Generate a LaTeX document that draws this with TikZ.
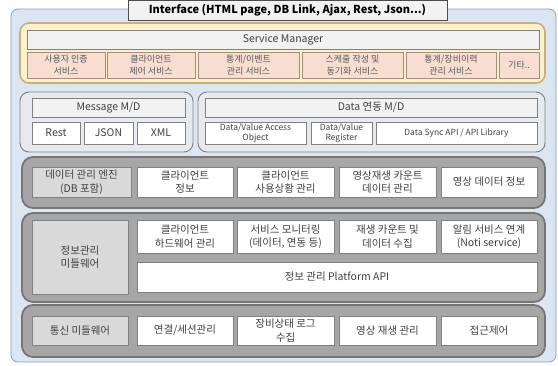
\documentclass[tikz,border=0pt]{standalone}
\usepackage{fontspec}
\setmainfont{Noto Sans CJK KR}
\definecolor{outerfill}{HTML}{DCE6F2}
\definecolor{outerline}{HTML}{8C9DB3}
\definecolor{yelfill}{HTML}{FDF1CB}
\definecolor{yelline}{HTML}{C8B07A}
\definecolor{hdrfill}{HTML}{F2F2F2}
\definecolor{pinkfill}{HTML}{F8DDD1}
\definecolor{pinkline}{HTML}{A38D80}
\definecolor{msgfill}{HTML}{E6E9EE}
\definecolor{gpfill}{HTML}{A6A6A6}
\definecolor{gpline}{HTML}{767676}
\definecolor{boxline}{HTML}{808080}
\definecolor{gboxfill}{HTML}{D9D9D9}
\definecolor{txt}{HTML}{404040}
\tikzset{
  base/.style={inner sep=0pt, outer sep=0pt, align=center, text=txt, font=\fontsize{10.5}{13.5}\selectfont},
  outerpanel/.style={base, fill=outerfill, draw=outerline, line width=0.8pt, rounded corners=7pt},
  tabbox/.style={base, fill=hdrfill, draw=black!70, line width=0.8pt, text=black, font=\bfseries\fontsize{11}{13}\selectfont},
  yelpanel/.style={base, fill=yelfill, draw=yelline, line width=1.6pt, rounded corners=9pt},
  hdr/.style={base, fill=hdrfill, draw=boxline, line width=0.7pt, font=\fontsize{10.5}{13}\selectfont},
  pinkbox/.style={base, fill=pinkfill, draw=pinkline, line width=0.8pt, text=black!65, font=\fontsize{9}{11.5}\selectfont},
  msgpanel/.style={base, fill=msgfill, draw=boxline, line width=0.9pt, rounded corners=9pt},
  grpanel/.style={base, fill=gpfill, draw=gpline, line width=1.8pt, rounded corners=11pt},
  wbox/.style={base, fill=white, draw=boxline, line width=1pt},
  gbox/.style={base, fill=gboxfill, draw=boxline, line width=1pt},
  smallbox/.style={wbox, font=\fontsize{8.5}{10}\selectfont},
}
% box from its two corners: name, style, x1, y1, x2, y2, text
\newcommand\cbox[7]{\node[#2, minimum width={#5-#3}, minimum height={#6-#4}] (#1) at ({(#3+#5)/2},{(#4+#6)/2}) {#7};}
\begin{document}
\begin{tikzpicture}[x=1pt,y=-1pt]
\useasboundingbox (0,0) rectangle (558,365);
% outer frame and interface tab
\cbox{outer}{outerpanel}{11}{9}{556}{362}{}
\cbox{iface}{tabbox}{128}{0.5}{447}{20}{Interface (HTML page, DB Link, Ajax, Rest, Json...)}
% service manager
\cbox{svc}{yelpanel}{20}{23}{545}{83}{}
\cbox{svchdr}{hdr}{27}{30}{539}{49}{Service Manager}
\cbox{s1}{pinkbox}{27}{52}{105}{78}{사용자 인증\\서비스}
\cbox{s2}{pinkbox}{107}{52}{195}{78}{클라이언트\\제어 서비스}
\cbox{s3}{pinkbox}{198}{52}{299}{78}{통계/이벤트\\관리 서비스}
\cbox{s4}{pinkbox}{302}{52}{403}{78}{스케줄 작성 및\\동기화 서비스}
\cbox{s5}{pinkbox}{406}{52}{496}{78}{통계/장비이력\\관리 서비스}
\cbox{s6}{pinkbox}{499}{52}{539}{78}{기타..}
% message M/D
\cbox{msg}{msgpanel}{20}{92}{193}{152}{}
\cbox{msghdr}{hdr}{32}{98}{185}{117}{Message M/D}
\cbox{m1}{wbox}{32}{122}{80}{144}{Rest}
\cbox{m2}{wbox}{84}{122}{133}{144}{JSON}
\cbox{m3}{wbox}{137}{122}{185}{144}{XML}
% data M/D
\cbox{dat}{msgpanel}{198}{92}{545}{152}{}
\cbox{dathdr}{hdr}{205}{98}{537}{117}{Data 연동 M/D}
\cbox{d1}{smallbox}{205}{122}{306}{144}{Data/Value Access\\Object}
\cbox{d2}{smallbox}{311}{122}{372}{144}{Data/Value\\Register}
\cbox{d3}{smallbox}{376}{122}{537}{144}{Data Sync API / API Library}
% data management engine
\cbox{eng}{grpanel}{22}{157}{545}{208}{}
\cbox{e0}{gbox}{32}{167}{131}{197}{데이터 관리 엔진\\(DB 포함)}
\cbox{e1}{wbox}{137}{167}{233}{197}{클라이언트\\정보}
\cbox{e2}{wbox}{237}{167}{334}{197}{클라이언트\\사용상황 관리}
\cbox{e3}{wbox}{339}{167}{436}{197}{영상재생 카운트\\데이터 관리}
\cbox{e4}{wbox}{441}{167}{537}{197}{영상 데이터 정보}
% information management middleware
\cbox{info}{grpanel}{22}{213}{545}{302}{}
\cbox{i0}{gbox}{32}{220}{128}{294}{정보관리\\미들웨어}
\cbox{i1}{wbox}{137}{220}{233}{253}{클라이언트\\하드웨어 관리}
\cbox{i2}{wbox}{237}{220}{334}{253}{서비스 모니터링\\(데이터, 연동 등)}
\cbox{i3}{wbox}{339}{220}{436}{253}{재생 카운트 및\\데이터 수집}
\cbox{i4}{wbox}{441}{220}{537}{253}{알림 서비스 연계\\(Noti service)}
\cbox{api}{wbox}{137}{262}{537}{292}{정보 관리 Platform API}
% communication middleware
\cbox{comm}{grpanel}{22}{305}{545}{357}{}
\cbox{c0}{gbox}{32}{316}{128}{345}{통신 미들웨어}
\cbox{c1}{wbox}{137}{316}{233}{345}{연결/세션관리}
\cbox{c2}{wbox}{237}{316}{334}{345}{장비상태 로그\\수집}
\cbox{c3}{wbox}{339}{316}{436}{345}{영상 재생 관리}
\cbox{c4}{wbox}{441}{316}{537}{345}{접근제어}
\end{tikzpicture}
\end{document}
